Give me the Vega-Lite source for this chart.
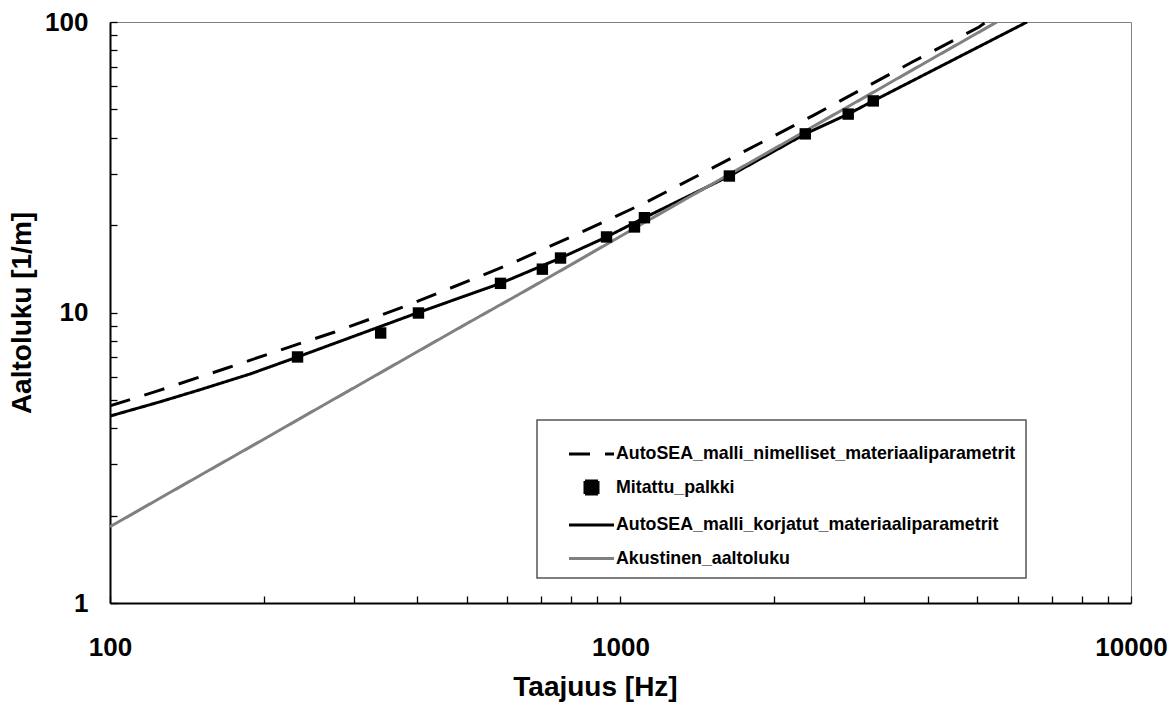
{
  "$schema": "https://vega.github.io/schema/vega-lite/v6.json",
  "width": 1021,
  "height": 581,
  "autosize": {"type": "none"},
  "padding": {"left": 110, "top": 22, "right": 39, "bottom": 99},
  "background": "white",
  "config": {
    "view": {"stroke": "#808080", "strokeWidth": 1},
    "font": "Liberation Sans"
  },
  "encoding": {
    "x": {
      "field": "f", "type": "quantitative",
      "scale": {"type": "log", "domain": [100, 10000], "nice": false},
      "axis": {
        "title": "Taajuus [Hz]",
        "values": [100, 200, 300, 400, 500, 600, 700, 800, 900, 1000, 2000, 3000, 4000, 5000, 6000, 7000, 8000, 9000, 10000],
        "labelExpr": "datum.value == 100 || datum.value == 1000 || datum.value == 10000 ? format(datum.value, 'd') : ''",
        "grid": false, "domainColor": "black", "domainWidth": 2,
        "tickColor": "black", "tickWidth": 1.3, "tickSize": -7,
        "labelPadding": 38, "labelFontSize": 26, "labelFontWeight": "bold", "labelColor": "black",
        "labelFont": "Liberation Sans", "labelFlush": false, "labelOverlap": false, "labelBound": false,
        "titleFontSize": 28, "titleFontWeight": "bold", "titleColor": "black", "titleFont": "Liberation Sans",
        "titleY": 84, "titleX": 485, "titleAlign": "center", "titleBaseline": "middle"
      }
    },
    "y": {
      "field": "k", "type": "quantitative",
      "scale": {"type": "log", "domain": [1, 100], "nice": false},
      "axis": {
        "title": "Aaltoluku [1/m]",
        "values": [1, 2, 3, 4, 5, 6, 7, 8, 9, 10, 20, 30, 40, 50, 60, 70, 80, 90, 100],
        "labelExpr": "datum.value == 1 || datum.value == 10 || datum.value == 100 ? format(datum.value, 'd') : ''",
        "grid": false, "domainColor": "black", "domainWidth": 2,
        "tickColor": "black", "tickWidth": 1.3, "tickSize": -7,
        "labelPadding": 29, "labelFontSize": 26, "labelFontWeight": "bold", "labelColor": "black",
        "labelFont": "Liberation Sans", "labelFlush": false, "labelOverlap": false, "labelBound": false,
        "titleFontSize": 28, "titleFontWeight": "bold", "titleColor": "black", "titleFont": "Liberation Sans",
        "titleX": -88, "titleBaseline": "middle", "titleAngle": -90
      }
    }
  },
  "layer": [
    {
      "data": {"values": [
        {"series": "AutoSEA_malli_nimelliset_materiaaliparametrit", "f": 100, "k": 4.77},
        {"series": "AutoSEA_malli_nimelliset_materiaaliparametrit", "f": 124, "k": 5.37},
        {"series": "AutoSEA_malli_nimelliset_materiaaliparametrit", "f": 169.5, "k": 6.44},
        {"series": "AutoSEA_malli_nimelliset_materiaaliparametrit", "f": 232, "k": 7.75},
        {"series": "AutoSEA_malli_nimelliset_materiaaliparametrit", "f": 275.6, "k": 8.57},
        {"series": "AutoSEA_malli_nimelliset_materiaaliparametrit", "f": 378, "k": 10.5},
        {"series": "AutoSEA_malli_nimelliset_materiaaliparametrit", "f": 518, "k": 13.1},
        {"series": "AutoSEA_malli_nimelliset_materiaaliparametrit", "f": 614, "k": 14.8},
        {"series": "AutoSEA_malli_nimelliset_materiaaliparametrit", "f": 833, "k": 18.8},
        {"series": "AutoSEA_malli_nimelliset_materiaaliparametrit", "f": 1125, "k": 24.0},
        {"series": "AutoSEA_malli_nimelliset_materiaaliparametrit", "f": 1528, "k": 31.7},
        {"series": "AutoSEA_malli_nimelliset_materiaaliparametrit", "f": 2398, "k": 47.9},
        {"series": "AutoSEA_malli_nimelliset_materiaaliparametrit", "f": 3728, "k": 72.8},
        {"series": "AutoSEA_malli_nimelliset_materiaaliparametrit", "f": 5040, "k": 96.1},
        {"series": "AutoSEA_malli_nimelliset_materiaaliparametrit", "f": 5200, "k": 100},
        {"series": "AutoSEA_malli_korjatut_materiaaliparametrit", "f": 100, "k": 4.40},
        {"series": "AutoSEA_malli_korjatut_materiaaliparametrit", "f": 125, "k": 4.92},
        {"series": "AutoSEA_malli_korjatut_materiaaliparametrit", "f": 150, "k": 5.42},
        {"series": "AutoSEA_malli_korjatut_materiaaliparametrit", "f": 188, "k": 6.14},
        {"series": "AutoSEA_malli_korjatut_materiaaliparametrit", "f": 233, "k": 7.03},
        {"series": "AutoSEA_malli_korjatut_materiaaliparametrit", "f": 402, "k": 10.0},
        {"series": "AutoSEA_malli_korjatut_materiaaliparametrit", "f": 582, "k": 12.6},
        {"series": "AutoSEA_malli_korjatut_materiaaliparametrit", "f": 763, "k": 15.4},
        {"series": "AutoSEA_malli_korjatut_materiaaliparametrit", "f": 939, "k": 18.2},
        {"series": "AutoSEA_malli_korjatut_materiaaliparametrit", "f": 1114, "k": 21.2},
        {"series": "AutoSEA_malli_korjatut_materiaaliparametrit", "f": 1634, "k": 29.5},
        {"series": "AutoSEA_malli_korjatut_materiaaliparametrit", "f": 2301, "k": 41.2},
        {"series": "AutoSEA_malli_korjatut_materiaaliparametrit", "f": 2793, "k": 48.2},
        {"series": "AutoSEA_malli_korjatut_materiaaliparametrit", "f": 3127, "k": 53.5},
        {"series": "AutoSEA_malli_korjatut_materiaaliparametrit", "f": 6257, "k": 100},
        {"series": "Akustinen_aaltoluku", "f": 100, "k": 1.83},
        {"series": "Akustinen_aaltoluku", "f": 125, "k": 2.29},
        {"series": "Akustinen_aaltoluku", "f": 160, "k": 2.93},
        {"series": "Akustinen_aaltoluku", "f": 200, "k": 3.66},
        {"series": "Akustinen_aaltoluku", "f": 250, "k": 4.58},
        {"series": "Akustinen_aaltoluku", "f": 315, "k": 5.77},
        {"series": "Akustinen_aaltoluku", "f": 400, "k": 7.33},
        {"series": "Akustinen_aaltoluku", "f": 500, "k": 9.16},
        {"series": "Akustinen_aaltoluku", "f": 630, "k": 11.5},
        {"series": "Akustinen_aaltoluku", "f": 800, "k": 14.6},
        {"series": "Akustinen_aaltoluku", "f": 1000, "k": 18.3},
        {"series": "Akustinen_aaltoluku", "f": 1250, "k": 22.9},
        {"series": "Akustinen_aaltoluku", "f": 1600, "k": 29.3},
        {"series": "Akustinen_aaltoluku", "f": 2000, "k": 36.6},
        {"series": "Akustinen_aaltoluku", "f": 2500, "k": 45.8},
        {"series": "Akustinen_aaltoluku", "f": 3150, "k": 57.7},
        {"series": "Akustinen_aaltoluku", "f": 4000, "k": 73.3},
        {"series": "Akustinen_aaltoluku", "f": 5000, "k": 91.6},
        {"series": "Akustinen_aaltoluku", "f": 5460, "k": 100}
      ]},
      "mark": {"type": "line", "strokeWidth": 3, "clip": true},
      "encoding": {
        "color": {
          "field": "series", "type": "nominal",
          "scale": {
            "domain": ["AutoSEA_malli_nimelliset_materiaaliparametrit", "Mitattu_palkki", "AutoSEA_malli_korjatut_materiaaliparametrit", "Akustinen_aaltoluku"],
            "range": ["black", "black", "black", "#808080"]
          },
          "legend": {
            "title": null, "orient": "none", "legendX": 427, "legendY": 398,
            "padding": 10, "symbolOffset": 20.5, "symbolSize": 169, "labelOffset": 0.5,
            "rowPadding": 0.5, "labelFont": "Liberation Sans", "labelFontSize": 17.8,
            "labelFontWeight": "bold", "labelColor": "black", "labelLimit": 800,
            "labelExpr": "datum.label + '\u00a0\u00a0\u00a0\u00a0'",
            "strokeColor": "#555555",
            "encode": {
              "legend": {"update": {"strokeWidth": {"value": 1.5}, "fill": {"value": "white"}}},
              "symbols": {"update": {
                "shape": {"signal": "datum.value === 'Mitattu_palkki' ? 'square' : 'stroke'"},
                "size": {"signal": "datum.value === 'Mitattu_palkki' ? 169 : 2025"},
                "fill": {"signal": "datum.value === 'Mitattu_palkki' ? 'black' : 'transparent'"},
                "stroke": {"signal": "datum.value === 'Akustinen_aaltoluku' ? '#808080' : (datum.value === 'Mitattu_palkki' ? 'transparent' : 'black')"},
                "strokeWidth": {"value": 3},
                "strokeDash": {"signal": "datum.value === 'AutoSEA_malli_nimelliset_materiaaliparametrit' ? [21, 15] : [1, 0]"},
                "opacity": {"value": 1}
              }}
            }
          }
        },
        "strokeDash": {
          "field": "series", "type": "nominal",
          "scale": {
            "domain": ["AutoSEA_malli_nimelliset_materiaaliparametrit", "Mitattu_palkki", "AutoSEA_malli_korjatut_materiaaliparametrit", "Akustinen_aaltoluku"],
            "range": [[21, 15], [1, 0], [1, 0], [1, 0]]
          },
          "legend": null
        }
      }
    },
    {
      "data": {"values": [
        {"series": "Mitattu_palkki", "f": 233, "k": 7.03},
        {"series": "Mitattu_palkki", "f": 339, "k": 8.5},
        {"series": "Mitattu_palkki", "f": 402, "k": 9.96},
        {"series": "Mitattu_palkki", "f": 582, "k": 12.6},
        {"series": "Mitattu_palkki", "f": 703, "k": 14.1},
        {"series": "Mitattu_palkki", "f": 763, "k": 15.4},
        {"series": "Mitattu_palkki", "f": 939, "k": 18.2},
        {"series": "Mitattu_palkki", "f": 1065, "k": 19.7},
        {"series": "Mitattu_palkki", "f": 1114, "k": 21.2},
        {"series": "Mitattu_palkki", "f": 1634, "k": 29.5},
        {"series": "Mitattu_palkki", "f": 2301, "k": 41.2},
        {"series": "Mitattu_palkki", "f": 2793, "k": 48.2},
        {"series": "Mitattu_palkki", "f": 3127, "k": 53.5}
      ]},
      "mark": {"type": "point", "shape": "square", "filled": true, "size": 130, "opacity": 1},
      "encoding": {
        "color": {"field": "series", "type": "nominal"}
      }
    }
  ]
}
